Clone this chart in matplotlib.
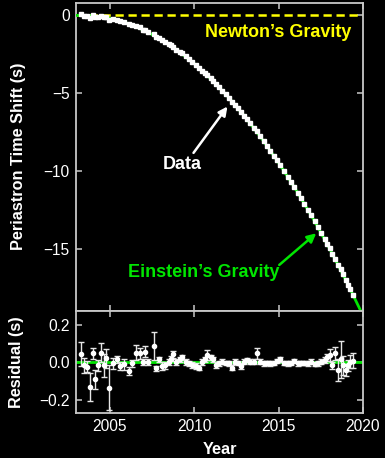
import matplotlib
matplotlib.use("Agg")
import matplotlib.pyplot as plt

plt.rcParams['font.family'] = ['Liberation Sans', 'DejaVu Sans']

# ---------------- data ----------------
years = [2003.30, 2003.45, 2003.67, 2003.81, 2003.99, 2004.15, 2004.31, 2004.47,
         2004.63, 2004.79, 2004.96, 2005.22, 2005.42, 2005.62, 2005.86, 2006.11,
         2006.31, 2006.57, 2006.77, 2006.95, 2007.11, 2007.29, 2007.60, 2007.76,
         2007.94, 2008.12, 2008.30, 2008.50, 2008.60, 2008.75, 2008.95, 2009.15,
         2009.29, 2009.49, 2009.69, 2009.88, 2010.08, 2010.28, 2010.48, 2010.62,
         2010.78, 2010.98, 2011.13, 2011.27, 2011.47, 2011.67, 2011.87, 2012.07,
         2012.23, 2012.42, 2012.60, 2012.76, 2012.96, 2013.12, 2013.32, 2013.52,
         2013.71, 2013.91, 2014.11, 2014.31, 2014.51, 2014.71, 2014.90, 2015.10,
         2015.34, 2015.54, 2015.73, 2015.93, 2016.13, 2016.33, 2016.53, 2016.73,
         2016.93, 2017.13, 2017.33, 2017.52, 2017.72, 2017.88, 2018.02, 2018.18,
         2018.36, 2018.52, 2018.67, 2018.81, 2018.97, 2019.11, 2019.25, 2019.41]

shift = [0.05, -0.02, -0.03, -0.15, 0.02, -0.14, -0.09, -0.04,
         -0.14, -0.13, -0.33, -0.26, -0.29, -0.39, -0.46, -0.59,
         -0.63, -0.69, -0.78, -0.92, -0.94, -1.10, -1.19, -1.40,
         -1.47, -1.62, -1.74, -1.86, -1.92, -2.01, -2.20, -2.35,
         -2.45, -2.64, -2.82, -3.00, -3.19, -3.39, -3.55, -3.68,
         -3.82, -4.04, -4.21, -4.40, -4.61, -4.83, -5.07, -5.31,
         -5.53, -5.73, -5.97, -6.20, -6.44, -6.64, -6.92, -7.20,
         -7.43, -7.76, -8.07, -8.37, -8.68, -8.99, -9.28, -9.59,
         -10.00, -10.34, -10.66, -11.00, -11.36, -11.72, -12.08, -12.45,
         -12.81, -13.21, -13.59, -13.95, -14.33, -14.64, -14.91, -15.29,
         -15.60, -16.02, -16.29, -16.61, -16.98, -17.26, -17.55, -17.90]

residual = [0.045, -0.015, -0.023, -0.130, 0.048, -0.090, -0.015, 0.052,
            -0.015, 0.022, -0.135, -0.005, 0.016, -0.020, -0.010, -0.045,
            -0.005, 0.052, 0.048, 0.004, 0.057, 0.002, 0.090, -0.032,
            0.016, -0.020, -0.015, 0.004, 0.021, 0.043, 0.004, 0.016,
            0.027, 0.004, -0.005, -0.015, -0.020, -0.027, 0.004, 0.016,
            0.040, 0.027, 0.016, -0.015, -0.005, 0.004, -0.002, -0.005,
            -0.027, 0.004, -0.002, -0.020, 0.004, 0.013, 0.004, 0.004,
            0.048, 0.004, -0.005, -0.002, -0.005, -0.002, 0.007, 0.016,
            -0.002, -0.005, -0.002, 0.007, -0.005, -0.002, -0.002, -0.005,
            0.004, -0.009, -0.005, 0.004, 0.013, 0.027, 0.040, -0.015,
            0.048, -0.040, 0.016, -0.015, -0.040, -0.015, 0.004, 0.009]

residual_err = [0.065, 0.040, 0.030, 0.075, 0.030, 0.050, 0.030, 0.050,
                0.060, 0.050, 0.120, 0.030, 0.020, 0.020, 0.030, 0.020,
                0.020, 0.040, 0.030, 0.015, 0.030, 0.015, 0.075, 0.015,
                0.015, 0.020, 0.020, 0.015, 0.015, 0.020, 0.015, 0.015,
                0.015, 0.015, 0.015, 0.015, 0.015, 0.015, 0.015, 0.015,
                0.025, 0.015, 0.015, 0.015, 0.015, 0.012, 0.012, 0.012,
                0.015, 0.012, 0.012, 0.015, 0.012, 0.012, 0.012, 0.012,
                0.030, 0.012, 0.012, 0.012, 0.012, 0.012, 0.012, 0.012,
                0.012, 0.012, 0.012, 0.012, 0.012, 0.012, 0.012, 0.012,
                0.012, 0.012, 0.012, 0.012, 0.015, 0.020, 0.030, 0.020,
                0.035, 0.060, 0.100, 0.050, 0.030, 0.030, 0.035, 0.040]

model_years = [2003, 2004, 2005, 2006, 2007, 2008, 2009, 2010, 2011,
               2012, 2013, 2014, 2015, 2016, 2017, 2018, 2019, 2020]
model_shift = [-0.01, -0.03, -0.20, -0.50, -0.95, -1.52, -2.24, -3.10, -4.09,
               -5.22, -6.49, -7.90, -9.45, -11.13, -12.95, -14.91, -17.01, -19.24]

xticks = [2005, 2010, 2015, 2020]
top_yticks = [0, -5, -10, -15]
res_yticks = [0.2, 0.0, -0.2]

# ---------------- styling ----------------
BG = 'black'
FG = 'white'
SPINE = '#c8c8c8'
GREEN = '#00e600'
YELLOW = '#ffff00'

W, H = 385, 458
fig = plt.figure(figsize=(W / 100, H / 100), dpi=100, facecolor=BG)

def frac(x0, y0, x1, y1):
    return [x0 / W, 1 - y1 / H, (x1 - x0) / W, (y1 - y0) / H]

ax = fig.add_axes(frac(76, 3.5, 363, 311))
axr = fig.add_axes(frac(76, 311, 363, 413))

for a in (ax, axr):
    a.set_facecolor(BG)
    for s in a.spines.values():
        s.set_color(SPINE)
        s.set_linewidth(1.3)
    a.tick_params(direction='in', length=4, width=1.1, color=SPINE,
                  labelcolor=FG, labelsize=11.2, top=True, right=True, pad=4.5)
    a.set_xlim(2003, 2020)
    a.set_xticks(xticks)

# ---- top panel ----
ax.axhline(0, color=YELLOW, lw=1.8, dashes=(3.3, 1.9), zorder=2)
ax.plot(model_years, model_shift, color=GREEN, lw=2, zorder=3)
ax.errorbar(years, shift, yerr=residual_err, fmt='s', ms=2.6, color=FG,
            ecolor=FG, elinewidth=1, capsize=0, mec=FG, mfc=FG, zorder=4)
ax.set_ylim(-18.95, 0.75)
ax.set_yticks(top_yticks)
ax.set_yticklabels(['0', '\u22125', '\u221210', '\u221215'])
ax.tick_params(labelbottom=False)

ax.text(2014.96, -1.10, 'Newton\u2019s Gravity', color=YELLOW, fontsize=13,
        fontweight='bold', ha='center', va='center')
ax.text(2009.31, -9.59, 'Data', color=FG, fontsize=13,
        fontweight='bold', ha='center', va='center')
ax.annotate('', xy=(2011.97, -5.85), xytext=(2009.96, -8.82),
            arrowprops=dict(arrowstyle='-|>', color=FG, lw=1.8,
                            mutation_scale=13, shrinkA=0, shrinkB=0))
ax.text(2010.56, -16.5, 'Einstein\u2019s Gravity', color=GREEN, fontsize=13,
        fontweight='bold', ha='center', va='center')
ax.annotate('', xy=(2017.23, -13.97), xytext=(2015.04, -16.0),
            arrowprops=dict(arrowstyle='-|>', color=GREEN, lw=1.8,
                            mutation_scale=13, shrinkA=0, shrinkB=0))

# ---- residual panel ----
axr.axhline(0, color=GREEN, lw=2, zorder=2)
axr.errorbar(years, residual, yerr=residual_err, fmt='o', ms=3.0, color=FG,
             ecolor='#e6e6e6', elinewidth=1, capsize=2.2, capthick=1,
             mec=FG, mfc=FG, zorder=4)
axr.set_ylim(-0.27, 0.275)
axr.set_yticks(res_yticks)
axr.set_yticklabels(['0.2', '0.0', '\u22120.2'])

fig.text(18.5 / W, 1 - 156 / H, 'Periastron Time Shift (s)', color=FG,
         fontsize=11.7, fontweight='bold', rotation=90, ha='center', va='center')
fig.text(16.5 / W, 1 - 362.5 / H, 'Residual (s)', color=FG,
         fontsize=11.7, fontweight='bold', rotation=90, ha='center', va='center')
fig.text(220 / W, 1 - 449 / H, 'Year', color=FG,
         fontsize=11.7, fontweight='bold', ha='center', va='center')

fig.savefig('out.png', dpi=100, facecolor=BG)
